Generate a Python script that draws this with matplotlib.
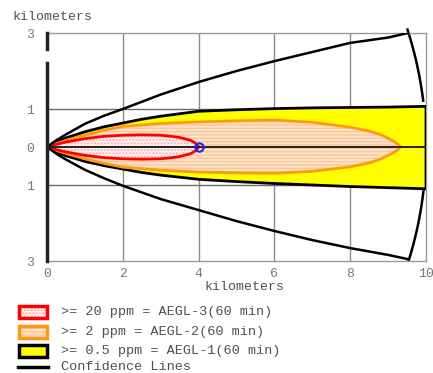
import numpy as np
import matplotlib
matplotlib.use('Agg')
import matplotlib.pyplot as plt
from matplotlib.patches import Rectangle, Polygon
from matplotlib.lines import Line2D

# --- data (km) ---
# AEGL-1 zone (yellow), upper / lower edges
aegl1_x = [0, 0.25, 0.5, 1, 1.5, 2, 2.5, 3, 4, 5, 6, 7, 8, 9, 10]
aegl1_up = [0, 0.13, 0.24, 0.40, 0.53, 0.63, 0.73, 0.81, 0.94, 0.98, 1.01, 1.03, 1.04, 1.05, 1.07]
aegl1_lo = [0, -0.13, -0.23, -0.38, -0.49, -0.58, -0.67, -0.74, -0.85, -0.91, -0.96, -1.00, -1.04, -1.07, -1.10]

# AEGL-2 zone (orange)
aegl2_x = [0, 0.25, 0.5, 1, 1.5, 2, 3, 4, 5, 6, 7, 8, 8.5, 8.8, 9.1, 9.25, 9.33]
aegl2_up = [0, 0.09, 0.17, 0.31, 0.44, 0.54, 0.62, 0.66, 0.69, 0.71, 0.65, 0.52, 0.42, 0.33, 0.18, 0.08, 0]
aegl2_lo = [0, -0.09, -0.17, -0.31, -0.43, -0.53, -0.61, -0.66, -0.68, -0.69, -0.64, -0.52, -0.42, -0.32, -0.17, -0.08, 0]

# AEGL-3 zone (red)
aegl3_x = [0, 0.25, 0.5, 1, 1.5, 2, 2.5, 3, 3.3, 3.5, 3.7, 3.8, 3.9, 3.95, 4.0]
aegl3_up = [0, 0.07, 0.13, 0.22, 0.28, 0.31, 0.32, 0.31, 0.28, 0.25, 0.20, 0.17, 0.11, 0.07, 0]
aegl3_lo = [0, -0.07, -0.13, -0.22, -0.28, -0.31, -0.32, -0.31, -0.28, -0.25, -0.20, -0.17, -0.11, -0.07, 0]

# confidence lines
conf_x = [0, 0.25, 0.5, 1, 1.5, 2, 3, 4, 5, 6, 7, 8, 9, 9.52]
conf_up = [0, 0.18, 0.33, 0.61, 0.82, 1.0, 1.38, 1.71, 2.0, 2.26, 2.5, 2.74, 2.88, 3.0]
conf_lo = [0, -0.18, -0.33, -0.60, -0.82, -1.02, -1.37, -1.66, -1.95, -2.21, -2.45, -2.66, -2.84, -2.95]
arc_radius = 10.0
arc_deg_up = [18.0, 7.0]
arc_deg_lo = [-17.3, -6.2]

source_x, source_y = [4.0], [0.0]

xticks = [0, 2, 4, 6, 8, 10]
yticks = [3, 1, 0, -1, -3]
ytick_labels = ['3', '1', '0', '1', '3']

legend_labels = ['>= 20 ppm = AEGL-3(60 min)', '>= 2 ppm = AEGL-2(60 min)',
                 '>= 0.5 ppm = AEGL-1(60 min)', 'Confidence Lines']

FONT = 'Liberation Mono'
GRAY = '#7a7a7a'
TXT = '#505050'

W, H = 433, 373
fig = plt.figure(figsize=(W / 100, H / 100), dpi=100)
fig.patch.set_facecolor('white')
ax = fig.add_axes([47 / W, (H - 261) / H, 379 / W, 228 / H])
ax.set_xlim(0, 10)
ax.set_ylim(-3, 3)


def zone(xs, up, lo):
    return np.column_stack([np.r_[xs, xs[::-1]], np.r_[up, lo[::-1]]])


# grid
for gx in [2, 4, 6, 8]:
    ax.axvline(gx, color='#8c8c8c', lw=1.0, zorder=1)
for gy in [1, -1]:
    ax.axhline(gy, color='#6a6a6a', lw=1.0, zorder=1)

# confidence arcs (beneath the zones)
for deg in (arc_deg_up, arc_deg_lo):
    t = np.radians(np.linspace(deg[0], deg[1], 60))
    ax.plot(arc_radius * np.cos(t), arc_radius * np.sin(t), color='black', lw=1.8,
            zorder=2, clip_on=False)

# zones
ax.add_patch(Polygon(zone(aegl1_x, aegl1_up, aegl1_lo), closed=True, facecolor='#ffff00',
                     edgecolor='black', lw=2.0, joinstyle='round', zorder=3))
ax.add_patch(Polygon(zone(aegl2_x, aegl2_up, aegl2_lo), closed=True, facecolor='#fde3c8',
                     edgecolor='#f8c79a', hatch='-----', lw=0, zorder=4))
ax.add_patch(Polygon(zone(aegl2_x, aegl2_up, aegl2_lo), closed=True, facecolor='none',
                     edgecolor='#ff9a10', lw=2.0, joinstyle='round', zorder=4))
ax.add_patch(Polygon(zone(aegl3_x, aegl3_up, aegl3_lo), closed=True, facecolor='#fff0f0',
                     edgecolor='#f8b0b0', hatch='.....', lw=0, zorder=5))
ax.add_patch(Polygon(zone(aegl3_x, aegl3_up, aegl3_lo), closed=True, facecolor='none',
                     edgecolor='#ff0000', lw=2.0, joinstyle='round', zorder=5))

# centre line and confidence lines
ax.axhline(0, color='#222222', lw=1.4, zorder=6)
ax.plot(conf_x, conf_up, color='black', lw=1.8, solid_joinstyle='round', zorder=6)
ax.plot(conf_x, conf_lo, color='black', lw=1.8, solid_joinstyle='round', zorder=6)
ax.plot(source_x, source_y, 'o', mfc='none', mec='#2020ff', mew=1.5, ms=6, zorder=7)

# spines
for s in ['top', 'right', 'bottom']:
    ax.spines[s].set_color('#9a9a9a')
    ax.spines[s].set_linewidth(1.0)
ax.spines['left'].set_visible(False)
ax.plot([0, 0], [-3, 2.2], color='#222222', lw=2.5, clip_on=False, zorder=8)
ax.plot([0, 0], [2.58, 3], color='#222222', lw=2.5, clip_on=False, zorder=8)

ax.set_xticks(xticks)
ax.set_yticks(yticks)
ax.set_yticklabels(ytick_labels)
ax.tick_params(length=0, labelcolor=GRAY, labelsize=9.5)
ax.tick_params(axis='y', pad=9)
ax.tick_params(axis='x', pad=5)
for lab in ax.get_xticklabels() + ax.get_yticklabels():
    lab.set_fontfamily(FONT)

fig.text(12 / W, 1 - 17 / H, 'kilometers', family=FONT, fontsize=9.5, color=TXT, va='center')
fig.text(244 / W, 1 - 287 / H, 'kilometers', family=FONT, fontsize=9.5, color=TXT,
         va='center', ha='center')

# legend drawn by hand
box_specs = [('#fff0f0', '#ff0000', '.....', '#f8b0b0'),
             ('#fde3c8', '#ff9a10', '-----', '#f8c79a'),
             ('#ffff00', 'black', None, None)]
rows_y = [312, 332, 351, 367]
for i, (fc, ec, hatch, hc) in enumerate(box_specs):
    y = rows_y[i]
    if hatch:
        fig.patches.append(Rectangle((19 / W, 1 - (y + 6) / H), 28 / W, 12 / H,
                                     transform=fig.transFigure, facecolor=fc,
                                     edgecolor=hc, hatch=hatch, lw=0))
        fig.patches.append(Rectangle((19 / W, 1 - (y + 6) / H), 28 / W, 12 / H,
                                     transform=fig.transFigure, facecolor='none',
                                     edgecolor=ec, lw=2.5))
    else:
        fig.patches.append(Rectangle((19 / W, 1 - (y + 6) / H), 28 / W, 12 / H,
                                     transform=fig.transFigure, facecolor=fc,
                                     edgecolor=ec, lw=2.5))
    fig.text(61 / W, 1 - y / H, legend_labels[i], family=FONT, fontsize=9.7, color=TXT,
             va='center')
fig.lines.append(Line2D([18 / W, 48 / W], [1 - rows_y[3] / H] * 2, transform=fig.transFigure,
                        color='black', lw=2.5))
fig.text(61 / W, 1 - rows_y[3] / H, legend_labels[3], family=FONT, fontsize=9.7, color=TXT,
         va='center')

fig.savefig('out.png', dpi=100)
